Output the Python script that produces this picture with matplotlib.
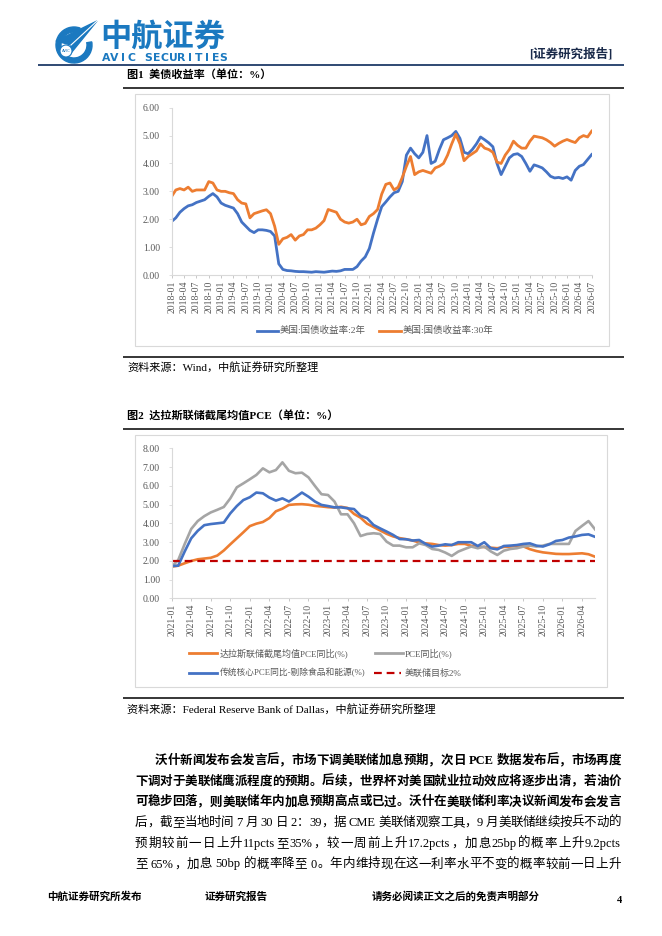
import re
import pandas as pd
import matplotlib
matplotlib.use("Agg")
import matplotlib.pyplot as plt
from matplotlib.patches import Rectangle, Wedge, Polygon, Circle
from matplotlib.font_manager import FontProperties

W, H = 662, 936
SERIF = ['Liberation Serif', 'Noto Sans CJK SC']
SANS = ['Noto Sans CJK SC', 'DejaVu Sans']
plt.rcParams['font.family'] = SERIF

# figure 1: US treasury yields, monthly values
yield_months = pd.period_range('2018-01', '2026-07', freq='M')
ust_2y = [1.92, 2.05, 2.25, 2.38, 2.48, 2.52, 2.60, 2.65, 2.70, 2.82,
          2.92, 2.80, 2.58, 2.50, 2.45, 2.40, 2.20, 1.90, 1.75, 1.60,
          1.52, 1.62, 1.62, 1.60, 1.56, 1.40, 0.40, 0.20, 0.16, 0.15,
          0.13, 0.12, 0.12, 0.11, 0.10, 0.12, 0.11, 0.10, 0.12, 0.14,
          0.13, 0.15, 0.20, 0.20, 0.20, 0.30, 0.50, 0.65, 0.95, 1.50,
          2.00, 2.45, 2.62, 2.80, 2.95, 3.00, 3.35, 4.30, 4.55, 4.35,
          4.20, 4.40, 5.00, 4.00, 4.08, 4.50, 4.85, 4.92, 5.00, 5.15,
          4.90, 4.40, 4.35, 4.50, 4.70, 4.95, 4.85, 4.74, 4.60, 4.00,
          3.60, 3.90, 4.20, 4.32, 4.35, 4.25, 4.00, 3.72, 3.95, 3.90,
          3.84, 3.70, 3.54, 3.48, 3.50, 3.46, 3.52, 3.40, 3.75, 3.90,
          3.96, 4.14, 4.32]
ust_30y = [2.82, 3.05, 3.10, 3.05, 3.15, 3.00, 3.05, 3.05, 3.05, 3.35,
           3.30, 3.05, 3.00, 3.00, 2.95, 2.92, 2.70, 2.58, 2.55, 2.05,
           2.20, 2.25, 2.30, 2.34, 2.20, 1.75, 1.10, 1.30, 1.35, 1.45,
           1.25, 1.40, 1.45, 1.62, 1.62, 1.68, 1.80, 1.95, 2.35, 2.30,
           2.25, 2.00, 1.90, 1.86, 1.90, 2.00, 1.80, 1.85, 2.10, 2.20,
           2.35, 2.90, 3.25, 3.30, 3.05, 3.15, 3.50, 3.90, 4.25, 3.60,
           3.70, 3.75, 3.70, 3.65, 3.84, 3.90, 4.00, 4.30, 4.70, 5.05,
           4.70, 4.10, 4.25, 4.35, 4.45, 4.70, 4.55, 4.50, 4.40, 4.05,
           4.00, 4.30, 4.50, 4.80, 4.65, 4.55, 4.55, 4.80, 4.98, 4.95,
           4.92, 4.85, 4.75, 4.62, 4.72, 4.80, 4.86, 4.80, 4.75, 4.92,
           5.00, 4.95, 5.16]

# figure 2: Dallas Fed trimmed mean PCE and others, monthly
pce_months = pd.period_range('2021-01', '2026-06', freq='M')
trimmed_pce = [1.69, 1.74, 1.87, 1.99, 2.08, 2.12, 2.16, 2.28, 2.55, 2.88,
               3.20, 3.52, 3.85, 3.98, 4.07, 4.28, 4.64, 4.78, 4.98, 5.01,
               5.02, 4.99, 4.93, 4.90, 4.86, 4.84, 4.88, 4.82, 4.50, 4.30,
               3.98, 3.80, 3.62, 3.44, 3.30, 3.21, 3.15, 3.08, 2.98, 2.93,
               2.90, 2.84, 2.81, 2.84, 2.90, 2.90, 2.80, 2.76, 2.73, 2.70,
               2.67, 2.74, 2.76, 2.80, 2.77, 2.62, 2.52, 2.45, 2.41, 2.37,
               2.36, 2.36, 2.38, 2.40, 2.35, 2.22]
pce_yoy = [1.69, 2.04, 2.90, 3.70, 4.12, 4.38, 4.58, 4.72, 4.87, 5.33,
           5.92, 6.13, 6.35, 6.58, 6.93, 6.72, 6.84, 7.25, 6.80, 6.67,
           6.70, 6.45, 5.99, 5.55, 5.51, 5.16, 4.48, 4.48, 4.00, 3.32,
           3.43, 3.47, 3.43, 3.02, 2.81, 2.81, 2.72, 2.72, 2.93, 2.84,
           2.63, 2.58, 2.44, 2.26, 2.49, 2.63, 2.76, 2.67, 2.76, 2.50,
           2.31, 2.54, 2.63, 2.67, 2.76, 2.81, 2.76, 2.81, 2.90, 2.90,
           2.90, 2.90, 3.59, 3.86, 4.12, 3.68]
core_pce = [1.72, 1.74, 2.50, 3.20, 3.60, 3.90, 3.96, 4.00, 4.04, 4.53,
            4.92, 5.24, 5.39, 5.64, 5.60, 5.37, 5.21, 5.33, 5.16, 5.39,
            5.64, 5.42, 5.16, 4.98, 4.92, 4.85, 4.85, 4.80, 4.76, 4.41,
            4.27, 3.91, 3.73, 3.56, 3.38, 3.16, 3.15, 3.08, 3.11, 2.90,
            2.76, 2.81, 2.88, 2.84, 2.99, 2.99, 2.99, 2.79, 2.99, 2.67,
            2.61, 2.79, 2.81, 2.84, 2.90, 2.93, 2.81, 2.76, 2.88, 3.06,
            3.11, 3.24, 3.30, 3.38, 3.41, 3.28]
fed_target = 2.0

body_lines = [
    "沃什新闻发布会发言后，市场下调美联储加息预期，次日 PCE 数据发布后，市场再度",
    "下调对于美联储鹰派程度的预期。后续，世界杯对美国就业拉动效应将逐步出清，若油价",
    "可稳步回落，则美联储年内加息预期高点或已过。沃什在美联储利率决议新闻发布会发言",
    "后，截至当地时间 7 月 30 日 2：39，据 CME 美联储观察工具，9 月美联储继续按兵不动的",
    "预期较前一日上升11pcts至35%，较一周前上升17.2pcts，加息25bp的概率上升9.2pcts",
    "至 65%，加息 50bp 的概率降至 0。年内维持现在这一利率水平不变的概率较前一日上升",
]

BLUE = '#4472C4'
ORANGE = '#ED7D31'
GRAY = '#A5A5A5'
RED = '#C00000'
LOGO = '#1b79c0'
TXT = '#595959'
AXC = '#d9d9d9'

fig = plt.figure(figsize=(W / 100, H / 100), dpi=100)
bg = fig.add_axes([0, 0, 1, 1])
bg.set_xlim(0, W)
bg.set_ylim(H, 0)
bg.axis('off')


def rect(x0, y0, x1, y1):
    return [x0 / W, 1 - y1 / H, (x1 - x0) / W, (y1 - y0) / H]


def hline(y, x0=123, x1=624, color='black', lw=1.1):
    bg.plot([x0, x1], [y, y], color=color, lw=lw, solid_capstyle='butt')


# ---- header ----
bg.add_patch(Wedge((74, 45), 18, -10, 290, width=5, color=LOGO))
bg.add_patch(Polygon([(97, 21), (56, 41), (71, 45), (67, 58)], closed=True, color=LOGO))
bg.plot([97, 71], [21, 45], color='white', lw=0.8)
bg.add_patch(Circle((66, 51), 6, fc='white', ec=LOGO, lw=0.8))
bg.text(66, 51.5, 'AVIC', fontsize=2.8, color=LOGO, ha='center', va='center', family='DejaVu Sans')
bg.text(100, 37, '中航证券', fontsize=22.5, fontweight='bold', color=LOGO, family=SANS, va='center')
for i, ch in enumerate('AVIC SECURITIES'):
    bg.text(106 + i * 8.4, 58, ch, fontsize=7.8, color=LOGO, family='DejaVu Sans',
            fontweight='bold', ha='center', va='center')
bg.text(612, 54, '[证券研究报告]', fontsize=9, fontweight='bold', color='#1a2a4a',
        ha='right', va='center')
hline(64.5, 38, 624, color='#1f3a68', lw=1.3)

# ---- figure 1 ----
bg.text(127, 74, '图1  美债收益率（单位：%）', fontsize=8, fontweight='bold', va='center')
hline(87.5)
bg.add_patch(Rectangle((135, 94), 474, 252, fill=False, ec=AXC, lw=0.8))


def style_axes(ax):
    ax.patch.set_alpha(0)
    for s in ['top', 'right']:
        ax.spines[s].set_visible(False)
    for s in ['left', 'bottom']:
        ax.spines[s].set_color(AXC)
        ax.spines[s].set_linewidth(0.8)
    ax.tick_params(axis='x', length=2.5, width=0.6, color='#bfbfbf', labelsize=7,
                   labelcolor=TXT, labelrotation=90, pad=1.5)
    ax.tick_params(axis='y', length=2.5, width=0.6, color=AXC, labelsize=7,
                   labelcolor=TXT, pad=6)


ax1 = fig.add_axes(rect(171.7, 107.7, 591.7, 275))
x1 = list(range(len(yield_months)))
ax1.plot(x1, ust_2y, color=BLUE, lw=2.0)
ax1.plot(x1, ust_30y, color=ORANGE, lw=2.0)
ax1.set_xlim(0, len(x1) - 1)
ax1.set_ylim(0, 6)
ax1.set_xticks(x1[::3])
ax1.set_xticklabels([str(p) for p in yield_months[::3]])
ax1.set_yticks(range(0, 7))
ax1.set_yticklabels([f'{v:.2f}' for v in range(0, 7)])
style_axes(ax1)

bg.plot([257, 278], [330.7, 330.7], color=BLUE, lw=2)
bg.text(280, 330.7, '美国:国债收益率:2年', fontsize=6.8, color=TXT, va='center')
bg.plot([379, 401], [330.7, 330.7], color=ORANGE, lw=2)
bg.text(403, 330.7, '美国:国债收益率:30年', fontsize=6.8, color=TXT, va='center')

hline(356.7)
bg.text(127, 367.5, '资料来源：Wind，中航证券研究所整理', fontsize=8, va='center')

# ---- figure 2 ----
bg.text(127, 415, '图2  达拉斯联储截尾均值PCE（单位：%）', fontsize=8, fontweight='bold', va='center')
hline(429)
bg.add_patch(Rectangle((135, 435), 472, 252, fill=False, ec=AXC, lw=0.8))

ax2 = fig.add_axes(rect(171.7, 448.3, 595, 598.3))
x2 = list(range(len(pce_months)))
ax2.plot(x2, trimmed_pce, color=ORANGE, lw=1.9)
ax2.plot(x2, pce_yoy, color=GRAY, lw=1.9)
ax2.plot(x2, core_pce, color=BLUE, lw=1.9)
ax2.plot(x2, [fed_target] * len(x2), color=RED, lw=1.6, dashes=(3.5, 2.2))
ax2.set_xlim(0, len(x2) - 1)
ax2.set_ylim(0, 8)
ax2.set_xticks(x2[::3])
ax2.set_xticklabels([str(p) for p in pce_months[::3]])
ax2.set_yticks(range(0, 9))
ax2.set_yticklabels([f'{v:.2f}' for v in range(0, 9)])
style_axes(ax2)

bg.plot([189, 217], [653, 653], color=ORANGE, lw=2)
bg.text(220, 653, '达拉斯联储截尾均值PCE同比(%)', fontsize=6.5, color=TXT, va='center')
bg.plot([375, 403], [653, 653], color=GRAY, lw=2)
bg.text(405, 653, 'PCE同比(%)', fontsize=6.5, color=TXT, va='center')
bg.plot([189, 217], [673, 673], color=BLUE, lw=2)
bg.text(220, 673, '传统核心PCE同比-剔除食品和能源(%)', fontsize=6.3, color=TXT, va='center')
bg.plot([374, 401], [673, 673], color=RED, lw=1.6, dashes=(3.5, 2.2))
bg.text(405, 673, '美联储目标2%', fontsize=6.5, color=TXT, va='center')

hline(698.3)
bg.text(127, 709.3, '资料来源：Federal Reserve Bank of Dallas，中航证券研究所整理',
        fontsize=8, va='center')

# ---- body text, justified line by line ----
renderer = fig.canvas.get_renderer()


def justify(line, x0, x1, y, size, weight):
    prop = FontProperties(family=SERIF, size=size, weight=weight)
    toks = re.findall(r'[A-Za-z0-9.%]+|\s+|.', line)
    widths = []
    for t in toks:
        if t.isspace():
            widths.append(size * 0.35)
        else:
            widths.append(renderer.get_text_width_height_descent(t, prop, ismath=False)[0])
    gap = (x1 - x0 - sum(widths)) / (len(toks) - 1)
    x = x0
    for t, w in zip(toks, widths):
        if not t.isspace():
            bg.text(x, y, t, fontproperties=prop, ha='left', va='baseline')
        x += w + gap


for i, line in enumerate(body_lines):
    yb = 759.5 + 20.7 * i + 4.5
    start = 155 if i == 0 else 135
    justify(line, start, 621, yb, 9, 'bold' if i < 3 else 'normal')

# ---- footer ----
bg.text(47, 900, '中航证券研究所发布', fontsize=7.6, fontweight='bold', va='baseline')
bg.text(205, 900, '证券研究报告', fontsize=7.6, fontweight='bold', va='baseline')
bg.text(372, 900, '请务必阅读正文之后的免责声明部分', fontsize=7.6, fontweight='bold', va='baseline')
bg.text(617, 903, '4', fontsize=7.6, fontweight='bold', va='baseline')

fig.savefig('out.png', dpi=100)
